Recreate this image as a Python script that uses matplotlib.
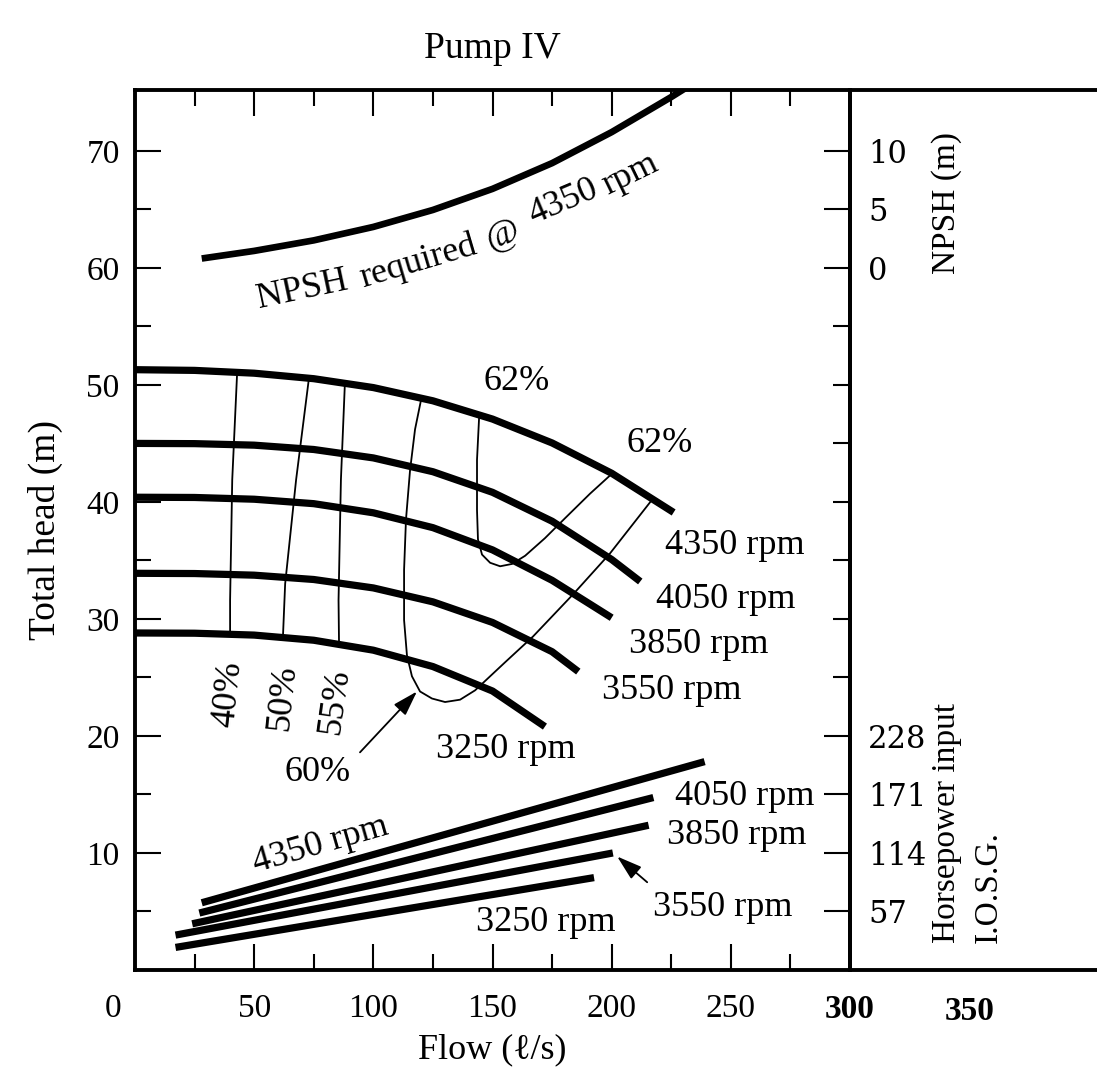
"""
Pump IV characteristic curves: head, efficiency, NPSH and horsepower vs flow.
Output: out.png
"""

import numpy as np
import matplotlib
matplotlib.use("Agg")
import matplotlib.pyplot as plt
from matplotlib.transforms import ScaledTranslation

plt.rcParams["font.family"] = ["Liberation Serif", "DejaVu Serif"]

# ── data ─────────────────────────────────────────────────────────────────────
SPEEDS = ["4350", "4050", "3850", "3550", "3250"]

# head curves, flow in l/s, head in m
head_q = {
    "4350": [0, 25, 50, 75, 100, 125, 150, 175, 200, 226],
    "4050": [0, 25, 50, 75, 100, 125, 150, 175, 200, 212],
    "3850": [0, 25, 50, 75, 100, 125, 150, 175, 200],
    "3550": [0, 25, 50, 75, 100, 125, 150, 175, 186],
    "3250": [0, 25, 50, 75, 100, 125, 150, 172],
}
head_h = {
    "4350": [51.3, 51.24, 51.0, 50.53, 49.77, 48.64, 47.08, 45.04, 42.45, 39.1],
    "4050": [45.0, 44.98, 44.85, 44.48, 43.76, 42.58, 40.82, 38.35, 35.08, 33.2],
    "3850": [40.4, 40.38, 40.23, 39.85, 39.07, 37.8, 35.9, 33.3, 30.1],
    "3550": [33.9, 33.88, 33.74, 33.37, 32.65, 31.46, 29.7, 27.2, 25.5],
    "3250": [28.8, 28.78, 28.62, 28.18, 27.33, 25.93, 23.84, 20.8],
}

# iso-efficiency lines
eff40_q = [42.8, 40.8, 39.9, 39.9]
eff40_h = [50.8, 41.9, 31.6, 28.8]
eff50_q = [73.0, 67.6, 63.0, 62.1]
eff50_h = [50.6, 41.9, 33.0, 28.6]
eff55_q = [88.1, 86.4, 85.4, 85.6]
eff55_h = [50.3, 41.9, 31.6, 28.0]
eff60_q = [120.0, 117.5, 115.4, 113.7, 112.9, 112.9, 114.1, 116.2, 119.6,
           124.6, 130.1, 136.4, 142.7, 155.3, 167.0, 183.8, 199.3, 217.0]
eff60_h = [48.7, 46.2, 42.7, 38.5, 34.2, 29.9, 26.9, 25.1, 23.8,
           23.2, 22.9, 23.1, 23.9, 26.3, 28.5, 32.1, 35.6, 40.2]
eff62_q = [144.4, 143.5, 143.5, 143.9, 145.6, 149.0, 153.2, 158.2, 163.7,
           172.0, 180.4, 190.9, 200.6]
eff62_h = [47.3, 43.6, 39.3, 36.8, 35.5, 34.8, 34.5, 34.7, 35.4,
           36.9, 38.6, 40.7, 42.5]

# NPSH required @ 4350 rpm (m), drawn on the 60 m = 0 NPSH scale
npsh_q = [28, 50, 75, 100, 125, 150, 175, 200, 225, 236]
npsh_m = [0.8, 1.45, 2.35, 3.5, 4.95, 6.75, 8.95, 11.6, 14.6, 16.0]
NPSH_ZERO = 60

# horsepower input (I.O.S.G.), 57 hp per 5 m of the head scale
hp_q = {
    "4350": [28, 239],
    "4050": [27, 217.5],
    "3850": [24, 215.5],
    "3550": [17, 200.5],
    "3250": [17, 192.6],
}
hp_val = {
    "4350": [65.5, 203],
    "4050": [55.5, 168],
    "3850": [45, 141],
    "3550": [34, 114],
    "3250": [22, 90],
}
HP_PER_M = 57 / 5

x_ticks = [0, 50, 100, 150, 200, 250, 300]
y_ticks = [10, 20, 30, 40, 50, 60, 70]
right_ticks = [5, 10, 15, 20, 60, 65, 70]
right_labels = ["57", "114", "171", "228", "0", "5", "10"]

# ── figure ───────────────────────────────────────────────────────────────────
W, H = 1097, 1073
fig = plt.figure(figsize=(W / 100, H / 100), dpi=100)
ax = fig.add_axes([135 / W, 1 - 970 / H, 715 / W, 880 / H])
pax = fig.add_axes([850 / W, 1 - 970 / H, 247 / W, 880 / H])

YMAX = 75.2
ax.set_xlim(0, 300)
ax.set_ylim(0, YMAX)

LW_SPINE = 2.8
for s in ax.spines.values():
    s.set_linewidth(LW_SPINE)

# head curves
for s in SPEEDS:
    ax.plot(head_q[s], head_h[s], color="black", lw=5.2,
            solid_capstyle="butt", solid_joinstyle="round")

# efficiency lines
for q, h in [(eff40_q, eff40_h), (eff50_q, eff50_h), (eff55_q, eff55_h),
             (eff60_q, eff60_h), (eff62_q, eff62_h)]:
    ax.plot(q, h, color="black", lw=1.3, solid_joinstyle="round")

# NPSH curve
ax.plot(npsh_q, NPSH_ZERO + np.array(npsh_m), color="black", lw=4.8,
        solid_capstyle="butt", solid_joinstyle="round")

# horsepower lines
for s in SPEEDS:
    ax.plot(hp_q[s], np.array(hp_val[s]) / HP_PER_M, color="black", lw=5.2,
            solid_capstyle="butt")

# ── labels inside plot ──────────────────────────────────────────────────────
FS = 26
ax.text(160, 50.3, "62%", fontsize=FS, ha="center", va="center")
ax.text(220, 45.0, "62%", fontsize=FS, ha="center", va="center")
ax.text(39.2, 23.6, "40%", fontsize=FS, ha="center", va="center", rotation=84)
ax.text(62.2, 23.3, "50%", fontsize=FS, ha="center", va="center", rotation=84)
ax.text(83.9, 23.0, "55%", fontsize=FS, ha="center", va="center", rotation=82)
ax.text(76.4, 16.9, "60%", fontsize=FS, ha="center", va="center")

arrow = dict(arrowstyle="-|>,head_length=0.7,head_width=0.22", color="black",
             lw=1.3, mutation_scale=22, shrinkA=0, shrinkB=0)
ax.annotate("", xy=(118.3, 23.8), xytext=(94.4, 18.6), arrowprops=arrow)
ax.annotate("", xy=(202.3, 9.7), xytext=(214.9, 7.5), arrowprops=arrow)

head_lab = {"4350": (251.8, 36.3), "4050": (248, 31.7), "3850": (236.7, 27.8),
            "3550": (225.3, 23.9), "3250": (155.7, 18.8)}
for s, (x, y) in head_lab.items():
    ax.text(x, y, f"{s} rpm", fontsize=FS, ha="center", va="center")

hp_lab = {"4050": (256, 14.8), "3850": (252.6, 11.5),
          "3550": (246.7, 5.3), "3250": (172.5, 4.1)}
for s, (x, y) in hp_lab.items():
    ax.text(x, y, f"{s} rpm", fontsize=FS, ha="center", va="center")
ax.text(78, 10.7, "4350 rpm", fontsize=FS, ha="center", va="center", rotation=16)

# curved NPSH caption, word by word
for word, x, y, rot in [("NPSH", 70.2, 58.1, 12), ("required", 118.7, 60.5, 16.5),
                        ("@", 154.0, 62.8, 20), ("4350", 179.6, 65.6, 23),
                        ("rpm", 207.7, 68.0, 26)]:
    ax.text(x, y, word, fontsize=FS, ha="center", va="center", rotation=rot,
            rotation_mode="anchor")

# ── axes ticks ───────────────────────────────────────────────────────────────
ax.set_xticks(x_ticks, [str(v) for v in x_ticks])
ax.set_xticks(np.arange(25, 300, 50), minor=True)
ax.set_yticks(y_ticks, [str(v) for v in y_ticks])
ax.set_yticks(np.arange(5, 70, 10), minor=True)
ax.tick_params(which="both", direction="in", top=True, bottom=True,
               left=True, right=False, width=1.5, labelsize=24)
ax.tick_params(which="major", length=18.5)
ax.tick_params(which="minor", length=11.5)
ax.tick_params(axis="x", pad=17)
ax.tick_params(axis="y", pad=11)
xl = ax.get_xticklabels()
xl[-1].set_fontweight("bold")
xl[0].set_transform(xl[0].get_transform()
                    + ScaledTranslation(-0.22, 0, fig.dpi_scale_trans))

ax.set_title("Pump IV", fontsize=27, pad=23)
ax.set_xlabel("Flow (\u2113/s)", fontsize=26, labelpad=6)
ax.set_ylabel("Total head (m)", fontsize=27, labelpad=17)

# right-hand scales (NPSH and horsepower)
ax2 = ax.twinx()
ax2.set_ylim(0, YMAX)
ax2.set_yticks(right_ticks, right_labels)
ax2.set_yticks(np.arange(25, 60, 5), minor=True)
ax2.tick_params(which="both", direction="in", right=True, width=1.5, pad=13)
ax2.tick_params(which="major", length=18.5)
ax2.tick_params(which="minor", length=12)
for lab in ax2.get_yticklabels():
    lab.set_fontfamily("DejaVu Serif")
    lab.set_fontsize(22)
for s in ax2.spines.values():
    s.set_visible(False)

# side panel
pax.set_xlim(300, 300 + 247 / 2.383)
pax.set_ylim(0, YMAX)
pax.patch.set_alpha(0)
pax.set_xticks([350], ["350"])
pax.set_yticks([])
pax.tick_params(axis="x", length=0, pad=17 + LW_SPINE / 2, labelsize=24)
for lab in pax.get_xticklabels():
    lab.set_fontweight("bold")
pax.spines["right"].set_visible(False)
for k in ["top", "bottom", "left"]:
    pax.spines[k].set_linewidth(LW_SPINE)

pax.text(340.7, 59.5, "NPSH (m)", fontsize=24, rotation=90, ha="center", va="bottom")
pax.text(340.7, 2.3, "Horsepower input", fontsize=24, rotation=90, ha="center", va="bottom")
pax.text(358.0, 2.3, "I.O.S.G.", fontsize=24, rotation=90, ha="center", va="bottom")

fig.savefig("out.png", dpi=100)
